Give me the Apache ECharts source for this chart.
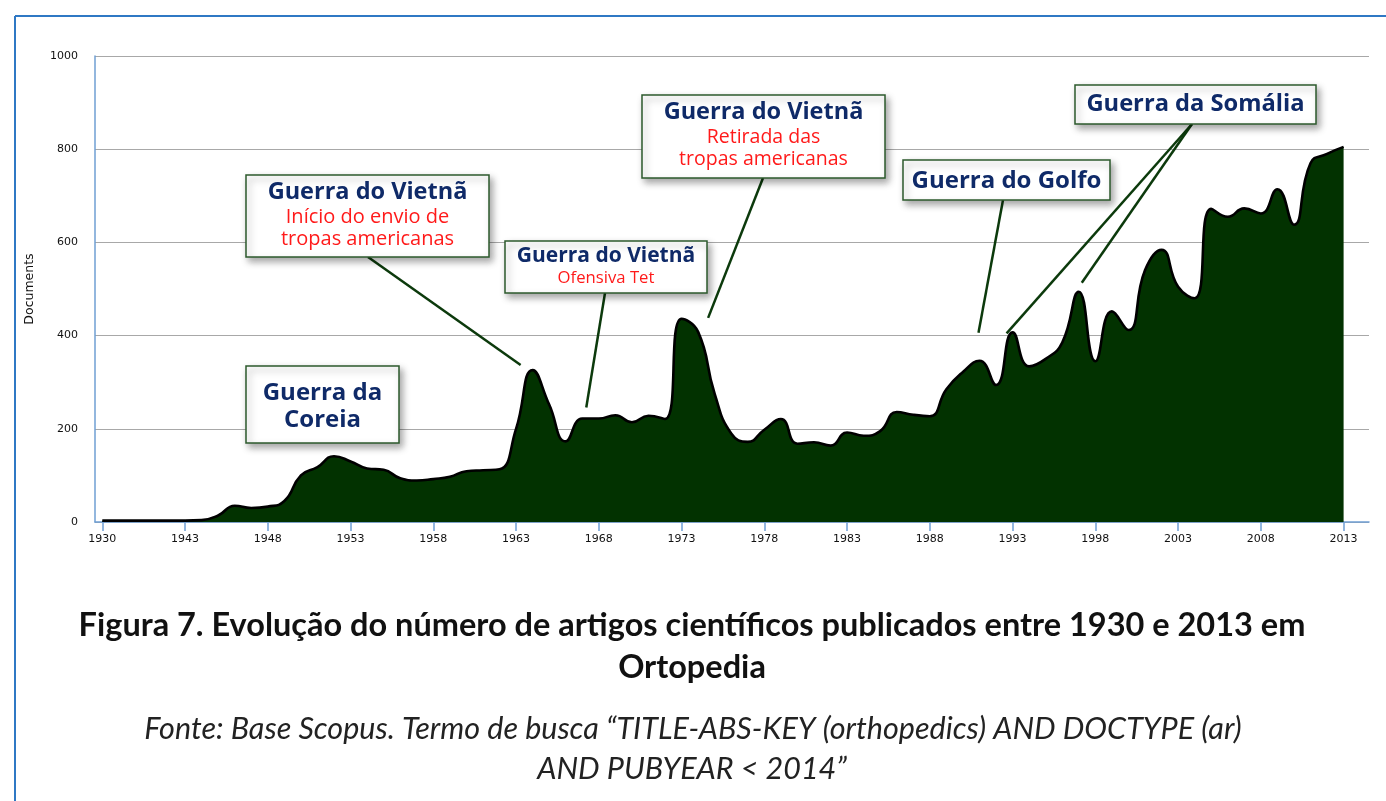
<!DOCTYPE html>
<html>
<head>
<meta charset="utf-8">
<script src="https://cdn.jsdelivr.net/npm/echarts@6/dist/echarts.min.js"></script>
<style>
html,body{margin:0;padding:0;background:#fff;}
#chart{width:1386px;height:801px;}
</style>
</head>
<body>
<div id="chart"></div>
<script>
// ---- data ----
var years = ['1930','1939','1940','1941','1942','1943','1944','1945','1946','1947',
  '1948','1949','1950','1951','1952','1953','1954','1955','1956','1957',
  '1958','1959','1960','1961','1962','1963','1964','1965','1966','1967',
  '1968','1969','1970','1971','1972','1973','1974','1975','1976','1977',
  '1978','1979','1980','1981','1982','1983','1984','1985','1986','1987',
  '1988','1989','1990','1991','1992','1993','1994','1995','1996','1997',
  '1998','1999','2000','2001','2002','2003','2004','2005','2006','2007',
  '2008','2009','2010','2011','2012','2013'];
var documents = [3,3,3,3,3,3,4,14,35,30,
  33,45,100,118,141,130,115,112,94,89,
  92,97,109,111,113,200,326,252,173,222,
  222,229,214,228,221,436,408,275,190,172,
  198,221,168,171,164,192,185,195,236,230,
  227,285,322,346,294,407,334,350,385,494,
  345,452,412,540,584,505,480,672,655,673,
  662,714,638,770,790,805];
var yTicks = [0,200,400,600,800,1000];
var yAxisName = 'Documents';
var captionTitle = ['Figura 7. Evolução do número de artigos científicos publicados entre 1930 e 2013 em', 'Ortopedia'];
var captionSource = ['Fonte: Base Scopus. Termo de busca “TITLE-ABS-KEY (orthopedics) AND DOCTYPE (ar)', 'AND PUBYEAR < 2014”'];
// annotations: title lines, subtitle lines, target years
var notes = [
  {title:['Guerra da','Coreia'], sub:[], targets:[]},
  {title:['Guerra do Vietnã'], sub:['Início do envio de','tropas americanas'], targets:['1964']},
  {title:['Guerra do Vietnã'], sub:['Ofensiva Tet'], targets:['1967']},
  {title:['Guerra do Vietnã'], sub:['Retirada das','tropas americanas'], targets:['1974']},
  {title:['Guerra do Golfo'], sub:[], targets:['1991']},
  {title:['Guerra da Somália'], sub:[], targets:['1993','1997']}
];

// ---- layout (pixels) ----
var boxes = [
  {x:246,y:366,w:153,h:77, tf:24, sf:18, ty:[393,420], sy:[], anchor:[]},
  {x:246,y:175,w:243,h:82, tf:23.5, sf:20, ty:[192], sy:[217,239], anchor:[[368,257]], off:[[-12,-5]]},
  {x:505,y:241,w:202,h:52, tf:21, sf:16.7, ty:[256], sy:[278], anchor:[[605,293]], off:[[4,-11]]},
  {x:642,y:95,w:243,h:83, tf:23.5, sf:19.5, ty:[112], sy:[137,159], anchor:[[763,178]], off:[[10,-14]]},
  {x:903,y:160,w:207,h:40, tf:24, sf:17, ty:[181], sy:[], anchor:[[1003,200]], off:[[-1,-28]]},
  {x:1075,y:85,w:241,h:39, tf:23.7, sf:17, ty:[104], sy:[], anchor:[[1192,124],[1192,124]], off:[[-6,1],[3,-9]]}
];

var chart = echarts.init(document.getElementById('chart'), null, {renderer:'canvas'});
var axisBlue = '#6f9fd3';
var option = {
  backgroundColor:'#fff',
  animation:false,
  grid:[
    {left:95, right:17, top:56, bottom:279},
    {left:102.3, right:42.4, top:56, bottom:279}
  ],
  xAxis:[
    {gridIndex:0, type:'value', min:0, max:1, axisLine:{show:true, lineStyle:{color:axisBlue, width:1.5}},
     axisTick:{show:false}, axisLabel:{show:false}, splitLine:{show:false}},
    {gridIndex:1, type:'category', data:years, boundaryGap:false,
     axisLine:{show:false},
     axisTick:{show:true, interval:4, length:9, lineStyle:{color:axisBlue, width:1.5}},
     axisLabel:{interval:4, margin:12, fontSize:11, color:'#111', fontFamily:'DejaVu Sans'},
     splitLine:{show:false}}
  ],
  yAxis:[
    {gridIndex:0, type:'value', min:0, max:1000, interval:200,
     name:yAxisName, nameLocation:'middle', nameRotate:90, nameGap:59,
     nameTextStyle:{fontSize:12.5, color:'#111', fontFamily:'DejaVu Sans'},
     axisLine:{show:true, lineStyle:{color:axisBlue, width:1.5}},
     axisTick:{show:false},
     axisLabel:{margin:17, fontSize:11, color:'#111', fontFamily:'DejaVu Sans',
       formatter:function(v){return yTicks.indexOf(v)>=0 ? String(v) : '';}},
     splitLine:{show:true, lineStyle:{color:'#a8a8a8', width:1.2}}},
    {gridIndex:1, type:'value', min:0, max:1000, interval:200, show:false, splitLine:{show:false}}
  ],
  series:[{
    type:'line', xAxisIndex:1, yAxisIndex:1, data:documents,
    smooth:0.5, symbol:'none',
    lineStyle:{color:'#000', width:2.6},
    areaStyle:{color:'#023200', opacity:1}
  }]
};
chart.setOption(option);

// ---- annotations ----
var g = [];
// frame
g.push({type:'line', shape:{x1:15,y1:16,x2:1386,y2:16}, style:{stroke:'#2f78c4', lineWidth:2}, z:50});
g.push({type:'line', shape:{x1:15,y1:16,x2:15,y2:801}, style:{stroke:'#2f78c4', lineWidth:2}, z:50});

var titleFont = '"Open Sans", Lato, sans-serif';
notes.forEach(function(n, i){
  var b = boxes[i];
  // leader lines
  n.targets.forEach(function(yr, k){
    var idx = years.indexOf(yr);
    var p = chart.convertToPixel({xAxisIndex:1, yAxisIndex:1}, [idx, documents[idx]]);
    var a = b.anchor[k], o = b.off[k];
    g.push({type:'line', shape:{x1:a[0], y1:a[1], x2:p[0]+o[0], y2:p[1]+o[1]},
      style:{stroke:'#0c3a0c', lineWidth:2.5}, z:60});
  });
  g.push({type:'rect', shape:{x:b.x, y:b.y, width:b.w, height:b.h},
    style:{fill:'#fff', stroke:'#2c5a2c', lineWidth:1.5,
      shadowBlur:7, shadowOffsetX:3, shadowOffsetY:4, shadowColor:'rgba(0,0,0,0.35)'}, z:70});
  var cx = b.x + b.w/2;
  n.title.forEach(function(t, k){
    g.push({type:'text', x:cx, y:b.ty[k], z:80,
      style:{text:t, align:'center', verticalAlign:'middle', fill:'#0f2a68',
        font:'bold '+b.tf+'px '+titleFont}});
  });
  n.sub.forEach(function(t, k){
    g.push({type:'text', x:cx, y:b.sy[k], z:80,
      style:{text:t, align:'center', verticalAlign:'middle', fill:'#ff1a1a',
        font:b.sf+'px '+titleFont}});
  });
});

// captions
var capFont = 'Lato, sans-serif';
g.push({type:'text', x:692, y:626, z:80, style:{text:captionTitle[0], align:'center', verticalAlign:'middle', fill:'#111', font:'bold 32.5px '+capFont}});
g.push({type:'text', x:692, y:668, z:80, style:{text:captionTitle[1], align:'center', verticalAlign:'middle', fill:'#111', font:'bold 32.5px '+capFont}});
g.push({type:'text', x:693, y:729, z:80, style:{text:captionSource[0], align:'center', verticalAlign:'middle', fill:'#222', font:'italic 30.5px '+capFont}});
g.push({type:'text', x:692, y:769, z:80, style:{text:captionSource[1], align:'center', verticalAlign:'middle', fill:'#222', font:'italic 30.5px '+capFont}});

chart.setOption({graphic:g});
</script>
</body>
</html>
